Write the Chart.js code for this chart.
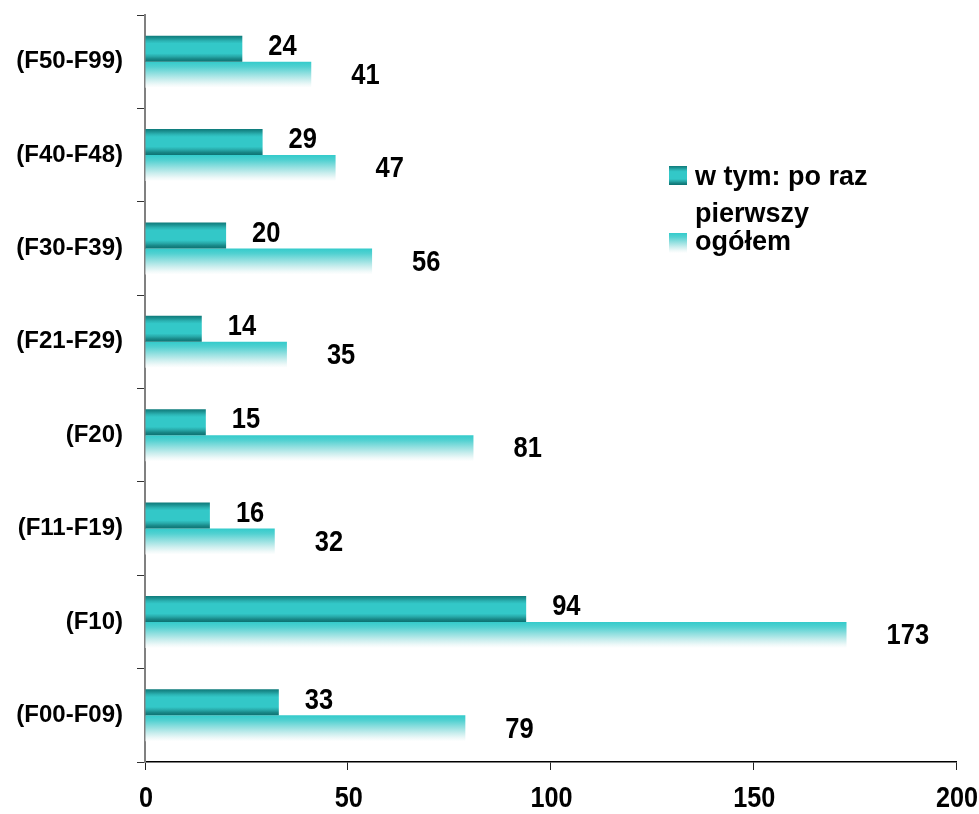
<!DOCTYPE html>
<html>
<head>
<meta charset="utf-8">
<script src="https://cdn.jsdelivr.net/npm/chart.js@4.4.0/dist/chart.umd.min.js"></script>
<style>
  html, body { margin: 0; padding: 0; background: #fff; }
</style>
</head>
<body>
<canvas id="wykres" width="979" height="814"></canvas>
<script>
// dane (od dołu do góry)
const kategorie = ['(F00-F09)', '(F10)', '(F11-F19)', '(F20)', '(F21-F29)', '(F30-F39)', '(F40-F48)', '(F50-F99)'];
const poRazPierwszy = [33, 94, 16, 15, 14, 20, 29, 24];
const ogolem = [79, 173, 32, 81, 35, 56, 47, 41];
const osX = [0, 50, 100, 150, 200];
const legenda = [['w tym: po raz', 'pierwszy'], ['ogółem']];

const CAT_PCT = 0.556;
const FONT = '"Liberation Sans", Arial, sans-serif';

const ciemne = [[0, '#0e7b7b'], [0.08, '#1a8e8e'], [0.2, '#2bb3b3'], [0.3, '#33c8c8'], [0.68, '#33c8c8'], [0.8, '#27a8a8'], [0.9, '#178585'], [1, '#0c7272']];
const jasne = [[0, '#33cbcb'], [0.2, '#52d1d1'], [0.45, '#90dfdf'], [0.7, '#cbeeee'], [0.88, '#eff9f9'], [1, '#ffffff']];

function paski(chart, ktory, stopnie) {
  const y = chart.scales.y;
  const H = chart.height;
  const g = chart.ctx.createLinearGradient(0, 0, 0, H);
  const krok = Math.abs(y.getPixelForValue(1) - y.getPixelForValue(0));
  const bh = krok * CAT_PCT / 2;
  const srodki = kategorie.map((_, i) => y.getPixelForValue(i)).sort((a, b) => a - b);
  srodki.forEach(c => {
    const gora = ktory === 0 ? c - bh : c;
    stopnie.forEach(([t, kol]) => {
      g.addColorStop(Math.min(1, Math.max(0, (gora + t * bh) / H)), kol);
    });
  });
  return g;
}

function kolor(ktory, stopnie, zapas) {
  return function (ctx) {
    const ch = ctx.chart;
    if (!ch.chartArea || !ch.scales.y) return zapas;
    return paski(ch, ktory, stopnie);
  };
}

function pudelko(ctx, x, y, w, h, stopnie) {
  const g = ctx.createLinearGradient(0, y, 0, y + h);
  stopnie.forEach(([t, kol]) => g.addColorStop(t, kol));
  ctx.fillStyle = g;
  ctx.fillRect(x, y, w, h);
}

const napisy = {
  id: 'napisy',
  afterDatasetsDraw(chart) {
    const ctx = chart.ctx;
    ctx.save();
    ctx.fillStyle = '#000';
    ctx.textBaseline = 'middle';
    ctx.textAlign = 'left';
    ctx.font = 'bold 30px ' + FONT;
    chart.data.datasets.forEach((ds, di) => {
      chart.getDatasetMeta(di).data.forEach((bar, i) => {
        const x = bar.x + (di === 0 ? 26 : 40);
        const y = bar.y + (di === 0 ? -2 : 1);
        ctx.save();
        ctx.translate(x, y);
        ctx.scale(0.85, 1);
        ctx.fillText(String(ds.data[i]), 0, 0);
        ctx.restore();
      });
    });

    // etykiety osi X
    const sx = chart.scales.x;
    ctx.textAlign = 'center';
    ctx.font = 'bold 29px ' + FONT;
    osX.forEach(v => {
      ctx.save();
      ctx.translate(sx.getPixelForValue(v) + 1, 799);
      ctx.scale(0.87, 1);
      ctx.fillText(String(v), 0, 0);
      ctx.restore();
    });

    // legenda
    ctx.textAlign = 'left';
    ctx.textBaseline = 'alphabetic';
    ctx.font = 'bold 27px ' + FONT;
    pudelko(ctx, 669, 166, 18, 19, ciemne);
    ctx.fillStyle = '#000';
    ctx.fillText(legenda[0][0], 695, 185);
    ctx.fillText(legenda[0][1], 695, 222);
    pudelko(ctx, 669, 233, 18, 20, jasne);
    ctx.fillStyle = '#000';
    ctx.fillText(legenda[1][0], 695, 250);
    ctx.restore();
  }
};

new Chart(document.getElementById('wykres').getContext('2d'), {
  type: 'bar',
  data: {
    labels: kategorie,
    datasets: [
      {
        label: legenda[0].join(' '),
        data: poRazPierwszy,
        backgroundColor: kolor(0, ciemne, '#22a3a3'),
        borderWidth: 0,
        categoryPercentage: CAT_PCT,
        barPercentage: 1
      },
      {
        label: legenda[1][0],
        data: ogolem,
        backgroundColor: kolor(1, jasne, '#8ddede'),
        borderWidth: 0,
        categoryPercentage: CAT_PCT,
        barPercentage: 1
      }
    ]
  },
  options: {
    indexAxis: 'y',
    responsive: false,
    animation: false,
    layout: { padding: { top: 15, right: 23, left: 0, bottom: 0 } },
    plugins: {
      legend: { display: false },
      tooltip: { enabled: false }
    },
    scales: {
      x: {
        min: 0,
        max: 200,
        ticks: { stepSize: 50, color: 'transparent', font: { size: 10 } },
        grid: { drawOnChartArea: false, tickLength: 8, color: '#222' },
        border: { color: '#000', width: 1.5 },
        afterFit(s) { s.height = 52; s.paddingLeft = 0; s.paddingRight = 0; }
      },
      y: {
        reverse: true,
        ticks: { color: '#000', padding: 14, font: { family: FONT, size: 24, weight: 'bold' } },
        grid: { drawOnChartArea: false, tickLength: 8, color: '#333', offset: true },
        border: { color: '#808080', width: 2 },
        afterFit(s) { s.width = 145; s.paddingTop = 0; s.paddingBottom = 0; }
      }
    }
  },
  plugins: [napisy]
});
</script>
</body>
</html>
